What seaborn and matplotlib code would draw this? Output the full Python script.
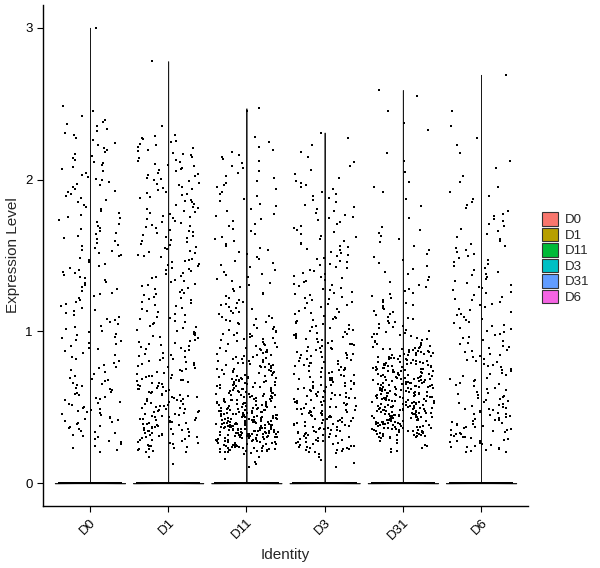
import numpy as np
import pandas as pd
import matplotlib
matplotlib.use("Agg")
import matplotlib.pyplot as plt
from matplotlib.patches import Patch
import seaborn as sns

# ---- data ----
groups = ["D0", "D1", "D11", "D3", "D31", "D6"]
colors = ["#F8766D", "#B79F00", "#00BA38", "#00BFC4", "#619CFF", "#F564E3"]
# number of cells with zero expression per identity (dense band at 0)
zero_counts = [900, 1000, 1100, 1000, 1000, 900]
# counts of non-zero cells in 0.1-wide bins starting at bin_starts
bin_starts = [round(0.1 * i, 1) for i in range(1, 30)]  # 0.1 .. 2.9
counts_D0  = [0, 8, 12, 14, 12, 12, 8, 8, 10, 9, 8, 8, 9, 8, 9, 9, 8, 7, 9, 8, 8, 6, 7, 3, 0, 0, 0, 0, 0]
counts_D1  = [2, 20, 28, 25, 22, 20, 16, 14, 14, 12, 10, 12, 11, 12, 11, 12, 12, 11, 12, 12, 11, 10, 1, 0, 0, 0, 0, 0, 0]
counts_D11 = [6, 50, 75, 60, 45, 35, 28, 22, 18, 14, 12, 8, 8, 7, 7, 6, 6, 6, 7, 6, 7, 3, 0, 1, 0, 0, 0, 0, 0]
counts_D3  = [5, 28, 30, 30, 28, 25, 22, 20, 18, 15, 12, 12, 11, 10, 10, 8, 8, 7, 7, 4, 3, 2, 0, 0, 0, 0, 0, 0, 0]
counts_D31 = [0, 10, 50, 60, 55, 50, 45, 35, 18, 12, 10, 8, 6, 5, 4, 5, 1, 2, 3, 1, 2, 0, 2, 1, 1, 0, 0, 0, 0]
counts_D6  = [0, 18, 20, 18, 15, 12, 12, 12, 10, 10, 9, 9, 8, 8, 7, 6, 6, 5, 3, 2, 2, 2, 1, 1, 0, 0, 0, 0, 0]
# highest value in each identity (top of each violin)
max_values = [3.00, 2.78, 2.47, 2.31, 2.59, 2.69]

bin_counts = [counts_D0, counts_D1, counts_D11, counts_D3, counts_D31, counts_D6]

rows = []
for g, z, cnts, mx in zip(groups, zero_counts, bin_counts, max_values):
    rows += [(g, 0.0)] * z
    for b, c in zip(bin_starts, cnts):
        for i in range(c):
            rows.append((g, b + 0.1 * (i + 0.5) / c))
    rows.append((g, mx))
df = pd.DataFrame(rows, columns=["Identity", "Expression Level"])

# ---- plotting ----
sns.set_style("white")
plt.rcParams["font.family"] = ["Liberation Sans", "DejaVu Sans"]

fig = plt.figure(figsize=(6.0, 5.68), dpi=100)
ax = fig.add_axes([43 / 600, 1 - 506 / 568, (528 - 43) / 600, (506 - 5) / 568])

pal = dict(zip(groups, colors))
sns.violinplot(data=df, x="Identity", y="Expression Level", hue="Identity",
               order=groups, hue_order=groups, palette=pal,
               density_norm="width", width=0.9, cut=0, bw_method=0.001,
               gridsize=2000, inner=None, linewidth=0.6, linecolor="#1a1a1a",
               legend=False, ax=ax)

np.random.seed(3)
sns.stripplot(data=df, x="Identity", y="Expression Level", order=groups,
              color="black", size=1.75, marker="s", jitter=0.4, linewidth=0, ax=ax)

ax.set_xlim(-0.6, len(groups) - 0.4)
ax.set_ylim(-0.15, 3.15)
ax.set_yticks([0, 1, 2, 3])
ax.set_yticklabels(["0", "1", "2", "3"])
ax.tick_params(axis="both", which="both", direction="out", length=4, width=0.8,
               color="black", labelsize=9.5, labelcolor="black", left=True, bottom=True)
for lab in ax.get_xticklabels():
    lab.set_rotation(45)
    lab.set_ha("right")
    lab.set_va("top")
    lab.set_rotation_mode("anchor")
ax.set_xlabel("Identity", fontsize=11)
ax.set_ylabel("Expression Level", fontsize=11)
for s in ["top", "right"]:
    ax.spines[s].set_visible(False)
for s in ["left", "bottom"]:
    ax.spines[s].set_color("black")
    ax.spines[s].set_linewidth(1.0)

handles = [Patch(facecolor=c, edgecolor="#333333", linewidth=0.8, label=g)
           for g, c in zip(groups, colors)]
fig.legend(handles=handles, loc="center left", bbox_to_anchor=(537 / 600, 1 - 258 / 568),
           frameon=False, fontsize=9.5, handlelength=1.2, handleheight=1.2,
           handletextpad=0.5, labelspacing=0.1, borderaxespad=0)

fig.savefig("out.png", dpi=100)
